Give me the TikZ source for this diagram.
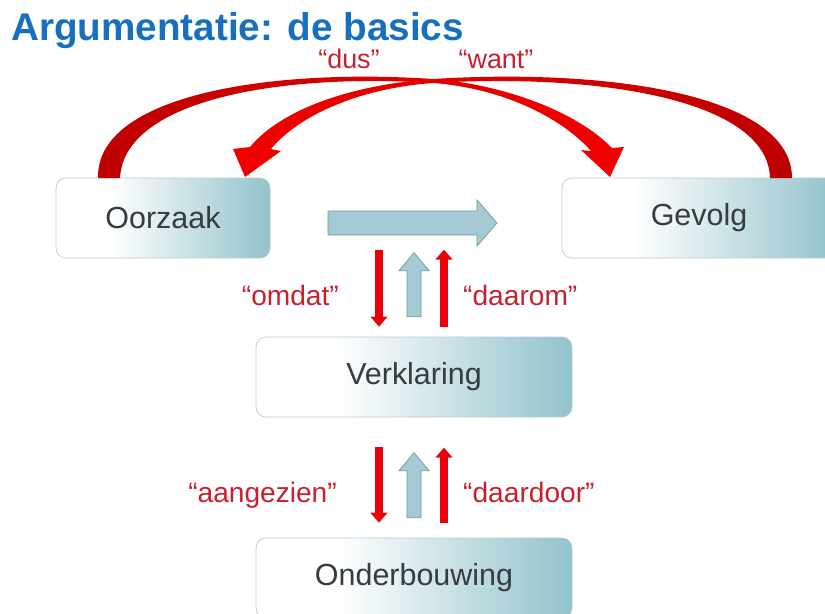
\documentclass[tikz,border=0pt]{standalone}
\usepackage{fontspec}
\setmainfont{Liberation Sans}
\usepackage{xcolor}
\usetikzlibrary{calc}
\usetikzlibrary{arrows.meta}

\definecolor{titleblue}{RGB}{22,112,190}
\definecolor{boxteal}{RGB}{146,194,203}
\definecolor{boxline}{RGB}{185,205,210}
\definecolor{boxtext}{RGB}{55,60,65}
\definecolor{labelred}{RGB}{200,32,45}
\definecolor{arcdark}{RGB}{190,0,0}
\definecolor{arcred}{RGB}{242,0,0}
\definecolor{linered}{RGB}{232,0,10}
\definecolor{blockfill}{RGB}{164,203,211}
\definecolor{blockline}{RGB}{115,148,156}

\pgfdeclarehorizontalshading{boxfade}{100bp}{color(0bp)=(white); color(25bp)=(white); color(38bp)=(white); color(75bp)=(boxteal); color(100bp)=(boxteal)}

\begin{document}
\begin{tikzpicture}[x=0.03cm, y=-0.03cm]
        % ================= 样式定义 =================
        \tikzset{
            % 圆角方框 (渐变填充)
            box/.style={rectangle, rounded corners=0.3cm, draw=boxline, line width=0.6pt, shading=boxfade, text=boxtext, font=\fontsize{26}{30}\selectfont, minimum height=2.4cm, inner sep=0pt},
            % 红色连接词
            wordlabel/.style={text=labelred, font=\fontsize{24}{28}\selectfont, inner sep=0pt},
            % 红色细箭头
            redarrow/.style={draw=linered, line width=0.22cm, -{Triangle[width=0.5cm,length=0.3cm]}},
            % 蓝绿色块箭头
            blockarrow/.style={fill=blockfill, draw=blockline, line width=0.6pt}
        }

        \useasboundingbox (0,0) rectangle (825,613);
        \clip (0,0) rectangle (825,613);

        % ================= 标题 =================
        \node[anchor=base west, text=titleblue, font=\bfseries\fontsize{33}{38}\selectfont, inner sep=0pt] (title) at (11,40) {Argumentatie: de basics};

        % ================= 方框 =================
        \node[box, minimum width=6.42cm] (ooz) at (163,218) {Oorzaak};
        \node[box, minimum width=8.22cm] (gev) at (699,218) {Gevolg};
        \node[box, minimum width=9.48cm] (ver) at (414,377) {Verklaring};
        \node[box, minimum width=9.48cm] (ond) at (414,578) {Onderbouwing};

        % ================= 上方弯箭头 =================
        % "dus": Oorzaak -> Gevolg
        \shade[left color=arcdark, right color=arcred]
            (98,178) .. controls (96,95) and (270,68) .. (433,79)
            .. controls (500,84) and (575,110) .. (612,148)
            -- (624,147) -- (610,177) -- (581,150) -- (591,151)
            .. controls (560,116) and (500,88) .. (433,83)
            .. controls (280,73) and (124,100) .. (120,178) -- cycle;
        % "want": Gevolg -> Oorzaak
        \shade[left color=arcred, right color=arcdark]
            (792,178) .. controls (792,95) and (610,68) .. (433,79)
            .. controls (360,84) and (284,106) .. (250,147)
            -- (233,149) -- (245,177) -- (281,151) -- (271,149)
            .. controls (300,114) and (362,88) .. (433,83)
            .. controls (600,73) and (768,100) .. (770,178) -- cycle;

        \node[wordlabel, font=\fontsize{23}{27}\selectfont, anchor=base] (dus) at (349,68) {“dus”};
        \node[wordlabel, font=\fontsize{23}{27}\selectfont, anchor=base] (want) at (496,68) {“want”};

        % ================= 水平块箭头 =================
        \draw[blockarrow] (328,211) -- (477,211) -- (477,200) -- (497,223) -- (477,246) -- (477,235) -- (328,235) -- cycle;

        % ================= Oorzaak/Gevolg <-> Verklaring =================
        \draw[redarrow] ($(ver.north)+(-35,-87)$) -- ($(ver.north)+(-35,-10)$);
        \draw[redarrow] ($(ver.north)+(30,-10)$) -- ($(ver.north)+(30,-87)$);
        \begin{scope}[shift={(ver.north)}]
            \draw[blockarrow] (-7,-20) -- (-7,-66) -- (-15,-66) -- (0,-84) -- (15,-66) -- (7,-66) -- (7,-20) -- cycle;
        \end{scope}
        \node[wordlabel, anchor=base east] (omdat) at (339,305) {“omdat”};
        \node[wordlabel, anchor=base west] (daarom) at (463,305) {“daarom”};

        % ================= Verklaring <-> Onderbouwing =================
        \draw[redarrow] ($(ond.north)+(-35,-91)$) -- ($(ond.north)+(-35,-15)$);
        \draw[redarrow] ($(ond.north)+(30,-15)$) -- ($(ond.north)+(30,-90)$);
        \begin{scope}[shift={(ond.north)}]
            \draw[blockarrow] (-7,-20) -- (-7,-67) -- (-15,-67) -- (0,-85) -- (15,-67) -- (7,-67) -- (7,-20) -- cycle;
        \end{scope}
        \node[wordlabel, anchor=base east] (aangezien) at (337,502) {“aangezien”};
        \node[wordlabel, anchor=base west] (daardoor) at (463,502) {“daardoor”};

    \end{tikzpicture}
\end{document}
